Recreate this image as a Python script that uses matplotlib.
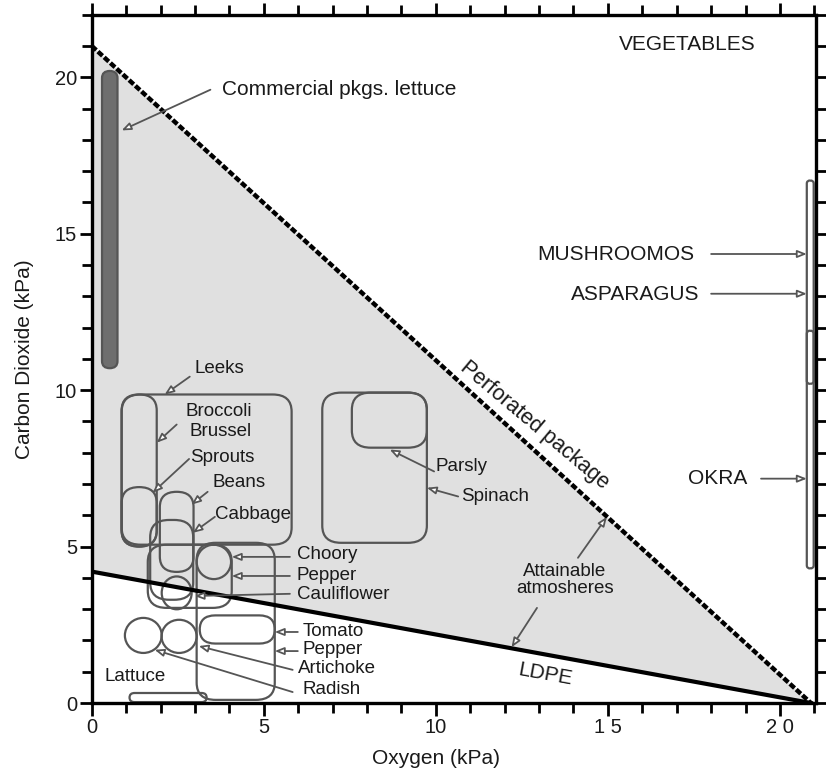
import numpy as np
import matplotlib.pyplot as plt
from matplotlib.patches import FancyBboxPatch, Ellipse, Polygon
from matplotlib.ticker import MultipleLocator, FixedLocator

plt.rcParams['font.family'] = ['Liberation Sans', 'DejaVu Sans']

# Lineas de envase: CO2 en funcion de O2
o2_aire = 20.9
co2_perforado = 21.0
co2_ldpe = 4.2

# Rangos recomendados (O2 min, O2 max, CO2 min, CO2 max)
cajas_nombres = ['Commercial lettuce', 'Leeks', 'Broccoli', 'Brussel sprouts', 'Beans',
                 'Cabbage', 'Pepper 1', 'Pepper 2', 'Tomato', 'Lattuce',
                 'Spinach', 'Parsly', 'Mushrooms/Asparagus', 'Okra']
cajas_o2_min = [0.30, 0.87, 0.87, 0.87, 1.98, 1.70, 1.63, 3.05, 3.14, 1.10, 6.70, 7.56, 20.78, 20.78]
cajas_o2_max = [0.75, 5.81, 1.89, 1.89, 2.96, 2.95, 4.07, 5.32, 5.32, 3.34, 9.74, 9.74, 20.98, 20.98]
cajas_co2_min = [10.7, 5.06, 5.00, 5.00, 4.19, 3.30, 3.04, 0.10, 1.90, 0.03, 5.12, 8.16, 10.2, 4.3]
cajas_co2_max = [20.2, 9.86, 9.86, 6.90, 6.75, 5.85, 5.06, 5.12, 2.80, 0.32, 9.92, 9.92, 16.7, 11.9]

# Rangos dibujados como elipses
elipses_nombres = ['Choory', 'Cauliflower', 'Artichoke', 'Radish']
elipses_o2 = [3.55, 2.47, 2.54, 1.50]
elipses_co2 = [4.51, 3.52, 2.13, 2.16]
elipses_ancho = [1.00, 0.87, 1.02, 1.07]
elipses_alto = [1.10, 1.05, 1.06, 1.12]

fig = plt.figure(figsize=(8.26, 7.70), dpi=100)
ax = fig.add_axes([0.111, 0.087, 0.877, 0.894])

gris = '#555555'

# Zona de atmosferas alcanzables
x_lin = np.array([0, o2_aire])
ax.add_patch(Polygon([[0, co2_perforado], [o2_aire, 0], [0, co2_ldpe]],
                     closed=True, fc='#e0e0e0', ec='none', zorder=0))
ax.plot(x_lin, co2_perforado * (1 - x_lin / o2_aire), color='black', lw=3.2,
        ls=(0, (1.4, 0.5)), zorder=3)
ax.plot(x_lin, co2_ldpe * (1 - x_lin / o2_aire), color='black', lw=3, zorder=3)

for i, nombre in enumerate(cajas_nombres):
    w = cajas_o2_max[i] - cajas_o2_min[i]
    h = cajas_co2_max[i] - cajas_co2_min[i]
    r = min(w / 2, h / 2, 0.55)
    if nombre == 'Commercial lettuce':
        fc, ec = '#6e6e6e', '#555555'
    else:
        fc, ec = 'none', gris
    ax.add_patch(FancyBboxPatch((cajas_o2_min[i], cajas_co2_min[i]), w, h,
                                boxstyle='round,pad=0,rounding_size=%.3f' % r,
                                fc=fc, ec=ec, lw=1.6, zorder=2))

for i in range(len(elipses_nombres)):
    ax.add_patch(Ellipse((elipses_o2[i], elipses_co2[i]), elipses_ancho[i], elipses_alto[i],
                         fc='none', ec=gris, lw=1.6, zorder=2))


def flecha(x0, y0, x1, y1):
    ax.annotate('', xy=(x1, y1), xytext=(x0, y0),
                arrowprops=dict(arrowstyle='-|>,head_length=0.55,head_width=0.22',
                                fc='white', ec=gris, lw=1.3, shrinkA=0, shrinkB=0),
                zorder=4)


fs = 13.5
fg = 15
tc = '#1a1a1a'
etiquetas = [
    ('Commercial pkgs. lettuce', 3.78, 19.62, fg),
    ('Leeks', 3.0, 10.7, fs),
    ('Broccoli', 2.73, 9.31, fs),
    ('Brussel', 2.85, 8.67, fs),
    ('Sprouts', 2.85, 7.84, fs),
    ('Beans', 3.52, 7.04, fs),
    ('Cabbage', 3.58, 6.02, fs),
    ('Choory', 5.96, 4.74, fs),
    ('Pepper', 5.96, 4.06, fs),
    ('Cauliflower', 5.96, 3.46, fs),
    ('Tomato', 6.13, 2.30, fs),
    ('Pepper', 6.13, 1.70, fs),
    ('Artichoke', 6.0, 1.09, fs),
    ('Radish', 6.13, 0.42, fs),
    ('Lattuce', 0.38, 0.86, fs),
    ('Parsly', 10.0, 7.55, fs),
    ('Spinach', 10.73, 6.6, fs),
]
for txt, x, y, s in etiquetas:
    ax.text(x, y, txt, ha='left', va='center', fontsize=s, color=tc, zorder=5)

flecha(3.45, 19.6, 0.87, 18.3)
flecha(2.85, 10.43, 2.12, 9.86)
flecha(2.47, 8.9, 1.89, 8.32)
flecha(2.83, 7.8, 1.77, 6.72)
flecha(3.37, 6.75, 2.9, 6.34)
flecha(3.58, 5.95, 2.94, 5.44)
flecha(5.76, 4.67, 4.07, 4.67)
flecha(5.76, 4.06, 4.07, 4.06)
flecha(5.76, 3.49, 2.99, 3.42)
flecha(5.99, 2.27, 5.32, 2.27)
flecha(5.99, 1.66, 5.32, 1.66)
flecha(5.84, 1.06, 3.11, 1.82)
flecha(5.84, 0.35, 1.83, 1.70)
flecha(9.95, 7.4, 8.66, 8.1)
flecha(10.65, 6.6, 9.74, 6.88)

# Vegetales de alto CO2 en el borde derecho
ax.text(17.5, 14.34, 'MUSHROOMOS', ha='right', va='center', fontsize=fg, color=tc)
ax.text(17.67, 13.06, 'ASPARAGUS', ha='right', va='center', fontsize=fg, color=tc)
ax.text(19.04, 7.17, 'OKRA', ha='right', va='center', fontsize=fg, color=tc)
flecha(18.0, 14.35, 20.78, 14.35)
flecha(18.0, 13.08, 20.78, 13.08)
flecha(19.45, 7.17, 20.78, 7.17)

ax.text(17.3, 21.05, 'VEGETABLES', ha='center', va='center', fontsize=fg, color=tc)

ax.text(13.75, 3.94, 'Attainable\natmosheres', ha='center', va='center', fontsize=fs,
        color=tc, linespacing=1.0)
flecha(14.13, 4.64, 14.97, 5.95)
flecha(12.94, 3.04, 12.2, 1.78)

ax.text(13.17, 0.9, 'LDPE', ha='center', va='center', fontsize=fg, rotation=-10.3, color=tc)
ax.text(12.86, 8.88, 'Perforated package', ha='center', va='center', fontsize=15.5,
        rotation=-40, color=tc)

ax.set_xlim(0, 21.05)
ax.set_ylim(0, 22.0)
ax.xaxis.set_major_locator(FixedLocator([0, 5, 10, 15, 20]))
ax.set_xticklabels(['0', '5', '10', '1 5', '2 0'])
ax.xaxis.set_minor_locator(MultipleLocator(1))
ax.yaxis.set_major_locator(FixedLocator([0, 5, 10, 15, 20]))
ax.yaxis.set_minor_locator(MultipleLocator(1))
ax.tick_params(which='both', direction='out', top=True, right=True, width=2,
               labelsize=14.5, colors='black', labelcolor=tc)
ax.tick_params(which='major', length=9, pad=1.5)
ax.tick_params(which='minor', length=7)
for lado in ax.spines.values():
    lado.set_linewidth(2.4)

ax.set_xlabel('Oxygen (kPa)', fontsize=15, color=tc)
ax.xaxis.set_label_coords(10 / 21.05, -0.067)
ax.set_ylabel('Carbon Dioxide (kPa)', fontsize=15, color=tc)
ax.yaxis.set_label_coords(-0.08, 0.5)

fig.savefig('out.png', dpi=100)
